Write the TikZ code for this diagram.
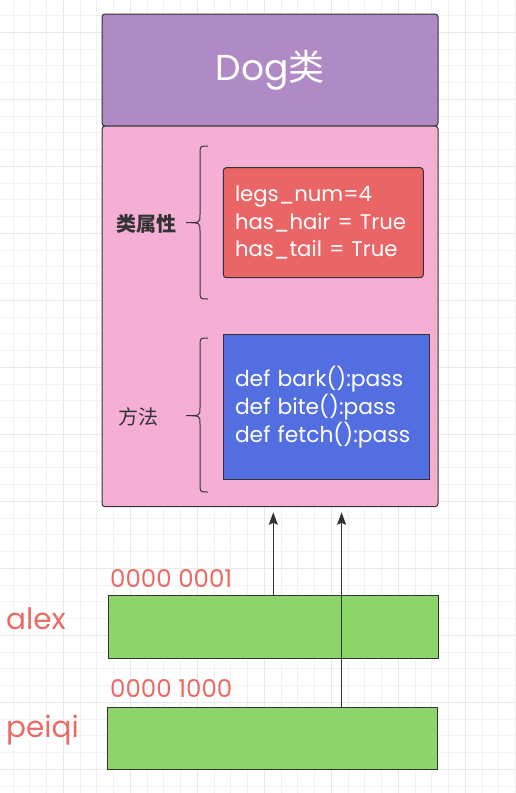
\documentclass[tikz,border=0pt]{standalone}
\usepackage{fontspec}
\setmainfont{Poppins}
\newfontfamily\cjk{Noto Sans CJK SC}
\usetikzlibrary{arrows.meta}
\definecolor{gridminor}{HTML}{F2F2F2}
\definecolor{gridmajor}{HTML}{E8E8E8}
\definecolor{edge}{HTML}{333333}
\definecolor{dogpurple}{HTML}{B08AC4}
\definecolor{bodypink}{HTML}{F5AED4}
\definecolor{attrred}{HTML}{EA6566}
\definecolor{methblue}{HTML}{526EE0}
\definecolor{memgreen}{HTML}{8CD56A}
\definecolor{labelred}{HTML}{EA6B66}
\tikzset{
  box/.style={draw=edge, line width=1pt, inner sep=0pt, outer sep=0pt},
  codebox/.style={box, text=white, align=left, inner xsep=11.7pt},
  sidelabel/.style={text=edge, font=\cjk\fontsize{20}{24}\selectfont},
  addrlabel/.style={text=labelred, anchor=west, inner sep=0pt, font=\fontsize{24.5}{28}\selectfont},
  varlabel/.style={text=labelred, anchor=west, inner sep=0pt, font=\fontsize{29.5}{32}\selectfont},
  bracepath/.style={draw=edge, line width=1pt},
  arr/.style={draw=edge, line width=1pt, -{Stealth[length=12.5pt, width=9pt, inset=2pt]}, shorten >=5.6pt}
}
\begin{document}
\begin{tikzpicture}[x=1pt,y=-1pt]
\useasboundingbox (0,0) rectangle (515,793);
\fill[white] (0,0) rectangle (515,793);
% background grid
\foreach \i in {0,...,30}{
  \pgfmathtruncatemacro{\m}{mod(\i,4)}
  \pgfmathsetmacro{\gx}{13.05+16.75*\i}
  \ifnum\m=3
    \draw[gridmajor, line width=1.2pt] (\gx,0) -- (\gx,793);
  \else
    \draw[gridminor, line width=1pt] (\gx,0) -- (\gx,793);
  \fi
}
\foreach \i in {0,...,47}{
  \pgfmathtruncatemacro{\m}{mod(\i,4)}
  \pgfmathsetmacro{\gy}{15.55+16.75*\i}
  \ifnum\m=1
    \draw[gridmajor, line width=1.2pt] (0,\gy) -- (515,\gy);
  \else
    \draw[gridminor, line width=1pt] (0,\gy) -- (515,\gy);
  \fi
}
% class box
\node[box, fill=dogpurple, rounded corners=3pt, minimum width=336pt, minimum height=112pt,
      text=white, font=\fontsize{36}{40}\selectfont] (dog) at (270,70) {Dog{\cjk 类}};
\node[box, fill=bodypink, rounded corners=3pt, minimum width=336pt, minimum height=380.7pt] (body) at (270,316.35) {};
% attributes
\node[codebox, fill=attrred, rounded corners=3pt, text width=176.6pt, minimum height=110pt,
      font=\fontsize{21.2}{27.6}\selectfont] (attrs) at (323.3,222.7)
  {legs\_num=4\\has\_hair = True\\has\_tail = True};
\node[codebox, fill=methblue, text width=182.3pt, minimum height=145pt,
      font=\fontsize{21.8}{28}\selectfont] (methods) at (326.15,406.8)
  {def bark():pass\\def bite():pass\\def fetch():pass};
% braces
\path[bracepath] (208,146) .. controls (200,146) .. (200,154) -- (200,214.7)
  .. controls (200,222.7) .. (186,222.7) .. controls (200,222.7) .. (200,230.7)
  -- (200,291) .. controls (200,299) .. (208,299);
\path[bracepath] (208,338) .. controls (200,338) .. (200,346) -- (200,407.7)
  .. controls (200,415.7) .. (186,415.7) .. controls (200,415.7) .. (200,423.7)
  -- (200,484) .. controls (200,492) .. (208,492);
\node[sidelabel, font=\cjk\bfseries\fontsize{20}{24}\selectfont] (attrlabel) at (146,223.5) {类属性};
\node[sidelabel] (methlabel) at (138,417) {方法};
% memory cells
\node[box, fill=memgreen, minimum width=330pt, minimum height=62.3pt] (alex) at (273.3,626.85) {};
\node[box, fill=memgreen, minimum width=330.3pt, minimum height=62.3pt] (peiqi) at (272.15,738.15) {};
\coordinate (peiqitop) at (341.6,707);
\draw[arr] (alex.north) -- (alex.north |- body.south);
\draw[arr] (peiqitop) -- (peiqitop |- body.south);
\node[addrlabel] (addr1) at (110,578) {0000 0001};
\node[addrlabel] (addr2) at (110,688.5) {0000 1000};
\node[varlabel] (alexlabel) at (6,618.5) {alex};
\node[varlabel] (peiqilabel) at (6,730) {peiqi};
\end{tikzpicture}
\end{document}
